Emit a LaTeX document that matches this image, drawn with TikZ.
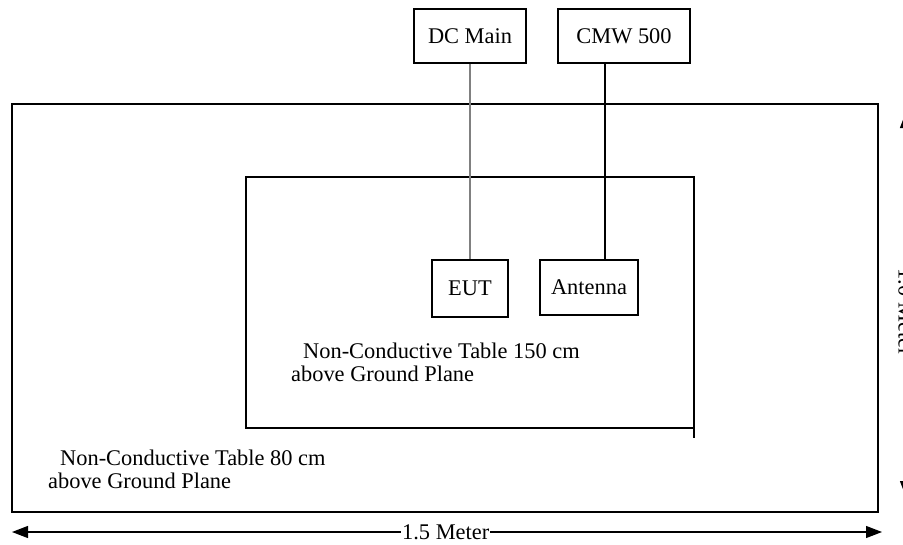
\documentclass[tikz,border=0pt]{standalone}
\usepackage{fontspec}
\setmainfont{Liberation Serif}
\usetikzlibrary{arrows.meta}
\tikzset{
    boite/.style={draw, line width=1.2pt, inner sep=0pt, font=\fontsize{22.4}{23}\selectfont},
    etiquette/.style={inner sep=0pt, anchor=base west, align=left, font=\fontsize{22.4}{23}\selectfont},
    cote/.style={line width=1.2pt, {Triangle[length=16pt,width=12pt]}-{Triangle[length=16pt,width=12pt]}},
}
\begin{document}
\begin{tikzpicture}[x=1pt, y=-1pt]

            \useasboundingbox (0,0) rectangle (903,544);

            % Hauteurs utiles
            \def\hbas{532}   % Hauteur de la cote horizontale
            \def\xcote{906}  % Abscisse de la cote verticale

            % ==============================================
            % 1. TABLES
            % ==============================================
            \draw[line width=2.6pt] (12,104) rectangle (878,512);
            \draw[line width=1.2pt] (246,177) rectangle (694,428);
            \draw[line width=1.2pt] (694,428) -- (694,438); % petit débord

            % ==============================================
            % 2. APPAREILS
            % ==============================================
            \node[boite, minimum width=112pt, minimum height=54pt] (dc) at (470,36) {DC Main};
            \node[boite, minimum width=132pt, minimum height=54pt] (cmw) at (624,36) {CMW 500};
            \node[boite, minimum width=76pt, minimum height=57pt] (eut) at (470,288.5) {EUT};
            \node[boite, minimum width=98pt, minimum height=55pt] (ant) at (589,287.5) {Antenna};

            % Câbles
            \draw[line width=1.2pt, gray] (dc.south) -- (eut.north);
            \draw[line width=1.2pt] (cmw.south -| 605,0) -- (ant.north -| 605,0);

            % Textes des tables (ancre = ligne du bas)
            \node[etiquette] (t150) at (291,381) {\hspace*{12pt}Non-Conductive Table 150 cm\\above Ground Plane};
            \node[etiquette] (t80) at (48,488) {\hspace*{12pt}Non-Conductive Table 80 cm\\above Ground Plane};

            % ==============================================
            % 3. COTES
            % ==============================================
            \coordinate (g) at (12,\hbas);
            \coordinate (d) at (882,\hbas);
            \draw[cote] (g) -- (d) node[pos=0.4985, fill=white, inner sep=1pt, font=\fontsize{22.4}{23}\selectfont] {1.5 Meter};

            \coordinate (h) at (\xcote,112);
            \coordinate (b) at (\xcote,497);
            \draw[cote] (h) -- (b) node[pos=0.52, fill=white, inner sep=1pt, rotate=-90, font=\fontsize{22.4}{23}\selectfont] {1.0 Meter};

        \end{tikzpicture}
\end{document}
